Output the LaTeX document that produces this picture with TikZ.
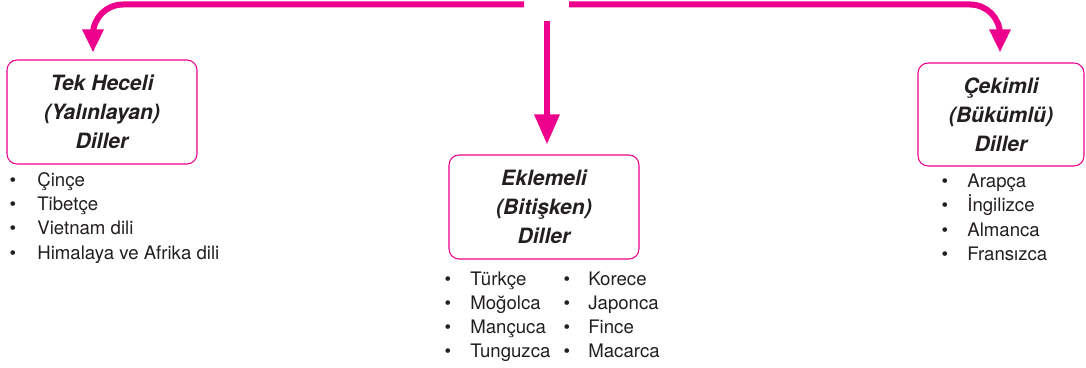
\documentclass[tikz,border=0pt]{standalone}
\usepackage{fontspec}
\setmainfont{TeX Gyre Heros}
\usetikzlibrary{arrows.meta,calc}
\definecolor{pembe}{HTML}{EC008C}
\definecolor{yazi}{HTML}{231F20}

\begin{document}
\begin{tikzpicture}[x=0.02cm, y=-0.02cm,
  kutu/.style={draw=pembe, line width=0.6pt, rounded corners=0.2cm, align=center,
    text=yazi, font=\fontsize{12}{16.5}\selectfont\bfseries\itshape},
  ok/.style={draw=pembe, line width=0.12cm, rounded corners=0.6cm,
    -{Triangle[length=0.46cm,width=0.4cm]}},
  madde/.style={anchor=base west, inner sep=0pt, text=yazi, font=\fontsize{10.6}{13}\selectfont},
  nokta/.style={anchor=base, inner sep=0pt, text=yazi, font=\fontsize{10.6}{13}\selectfont}]
  \useasboundingbox (0,0) rectangle (1086,368);

  \node[kutu, minimum width=3.8cm, minimum height=2.08cm] (tek) at (102,112)
    {Tek Heceli\\(Yalınlayan)\\Diller};
  \node[kutu, minimum width=3.8cm, minimum height=2.08cm] (ekl) at (544,207)
    {Eklemeli\\(Bitişken)\\Diller};
  \node[kutu, minimum width=3.32cm, minimum height=2.06cm] (cek) at (1001,114.5)
    {Çekimli\\(Bükümlü)\\Diller};

  \coordinate (sol) at (524,4.5);
  \coordinate (sag) at (569,4.5);
  \coordinate (orta) at (547,21);
  \draw[ok] (sol) -| ($(tek.north)+(-9,-7)$);
  \draw[ok] (sag) -| ($(cek.north)+(-1,-10)$);
  \draw[ok, -{Triangle[length=0.6cm,width=0.48cm]}] (orta) -- ($(ekl.north)+(3,-10)$);

  \foreach \ad [count=\i] in {Çinçe,Tibetçe,Vietnam dili,Himalaya ve Afrika dili} {
    \node[nokta] (tn\i) at (13,163+24*\i) {\textbullet};
    \node[madde] (tm\i) at (37,163+24*\i) {\ad};
  }
  \foreach \ad [count=\i] in {Türkçe,Moğolca,Mançuca,Tunguzca} {
    \node[nokta] (en\i) at (448,261+24*\i) {\textbullet};
    \node[madde] (em\i) at (470,261+24*\i) {\ad};
  }
  \foreach \ad [count=\i] in {Korece,Japonca,Fince,Macarca} {
    \node[nokta] (fn\i) at (567,261+24*\i) {\textbullet};
    \node[madde] (fm\i) at (588,261+24*\i) {\ad};
  }
  \foreach \ad [count=\i] in {Arapça,İngilizce,Almanca,Fransızca} {
    \node[nokta] (cn\i) at (945,164+24*\i) {\textbullet};
    \node[madde] (cm\i) at (967,164+24*\i) {\ad};
  }
\end{tikzpicture}
\end{document}
